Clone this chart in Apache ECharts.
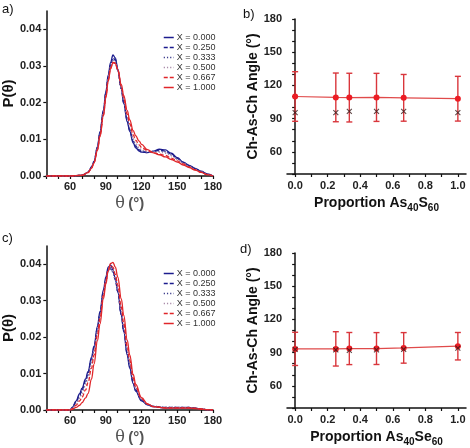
<!DOCTYPE html>
<html>
<head>
<meta charset="utf-8">
<script src="https://cdn.jsdelivr.net/npm/echarts@6/dist/echarts.min.js"></script>
<style>
  html, body { margin: 0; padding: 0; background: #fff; }
  #chart { width: 470px; height: 448px; }
</style>
</head>
<body>
<div id="chart"></div>
<script>
// angle grids (degrees) for the distributions
var thetaA = [40, 60, 70, 75, 78, 80, 83, 85, 88, 90, 92, 94, 96, 98, 100, 103, 105, 108, 110, 113, 115, 118, 120, 125, 130, 135, 140, 145, 150, 155, 160, 165, 170, 175, 180];
var thetaC = [40, 60, 62, 65, 68, 70, 73, 75, 78, 80, 83, 85, 88, 90, 92, 94, 96, 98, 100, 103, 105, 108, 110, 113, 115, 120, 125, 130, 140, 150, 160, 165, 170, 175, 180];

var seriesNames = ['X = 0.000', 'X = 0.250', 'X = 0.333', 'X = 0.500', 'X = 0.667', 'X = 1.000'];

// panel a) P(theta), As-S
var pA0   = [0, 0, 0.0002, 0.001, 0.0025, 0.004, 0.008, 0.012, 0.018, 0.023, 0.0275, 0.031, 0.033, 0.0322, 0.0292, 0.0238, 0.0198, 0.0148, 0.0122, 0.009, 0.0077, 0.0068, 0.0065, 0.0064, 0.0068, 0.0073, 0.0071, 0.0062, 0.005, 0.0038, 0.0029, 0.0021, 0.0013, 0.0006, 0];
var pA250 = [0, 0, 0.0002, 0.001, 0.0024, 0.0039, 0.0078, 0.0117, 0.0176, 0.0226, 0.027, 0.0303, 0.0322, 0.0317, 0.0289, 0.0238, 0.02, 0.0152, 0.0126, 0.0094, 0.0081, 0.0071, 0.0067, 0.0064, 0.0067, 0.007, 0.0068, 0.006, 0.0048, 0.0037, 0.0028, 0.002, 0.0012, 0.0005, 0];
var pA333 = [0, 0, 0.0002, 0.001, 0.0024, 0.0038, 0.0076, 0.0114, 0.0173, 0.0223, 0.0267, 0.03, 0.0317, 0.0314, 0.0288, 0.0239, 0.0203, 0.0156, 0.013, 0.0098, 0.0084, 0.0073, 0.0069, 0.0065, 0.0066, 0.0068, 0.0066, 0.0058, 0.0047, 0.0036, 0.0027, 0.0019, 0.0012, 0.0005, 0];
var pA500 = [0, 0, 0.0002, 0.001, 0.0023, 0.0037, 0.0074, 0.0112, 0.017, 0.022, 0.0264, 0.0297, 0.0313, 0.0311, 0.0288, 0.0241, 0.0207, 0.016, 0.0135, 0.0103, 0.0089, 0.0077, 0.0072, 0.0066, 0.0065, 0.0065, 0.0062, 0.0055, 0.0045, 0.0035, 0.0026, 0.0018, 0.0011, 0.0005, 0];
var pA667 = [0, 0, 0.0002, 0.0009, 0.0022, 0.0036, 0.0072, 0.011, 0.0167, 0.0217, 0.0262, 0.0295, 0.031, 0.0308, 0.0289, 0.0245, 0.0213, 0.0168, 0.0143, 0.0112, 0.0098, 0.0085, 0.0078, 0.0069, 0.0063, 0.006, 0.0056, 0.0049, 0.0041, 0.0033, 0.0025, 0.0017, 0.001, 0.0004, 0];
var pA1   = [0, 0, 0.0002, 0.0009, 0.0021, 0.0035, 0.007, 0.0107, 0.0164, 0.0213, 0.0258, 0.0292, 0.0309, 0.0307, 0.029, 0.025, 0.022, 0.0178, 0.0154, 0.0124, 0.011, 0.0095, 0.0086, 0.0072, 0.0063, 0.0058, 0.0052, 0.0045, 0.0038, 0.003, 0.0023, 0.0016, 0.001, 0.0004, 0];

// panel c) P(theta), As-Se
var pC0   = [0, 0, 0.0008, 0.0025, 0.0045, 0.006, 0.0085, 0.0105, 0.0145, 0.0175, 0.023, 0.027, 0.033, 0.0365, 0.0392, 0.0398, 0.0385, 0.036, 0.0325, 0.026, 0.0215, 0.015, 0.0115, 0.0072, 0.0052, 0.0025, 0.0014, 0.0009, 0.0006, 0.0006, 0.0006, 0.0005, 0.0003, 0.0001, 0];
var pC250 = [0, 0, 0.0007, 0.0022, 0.004, 0.0055, 0.008, 0.01, 0.014, 0.017, 0.0225, 0.0265, 0.0325, 0.036, 0.0385, 0.039, 0.038, 0.0357, 0.0325, 0.0262, 0.0218, 0.0155, 0.012, 0.0076, 0.0055, 0.0027, 0.0015, 0.001, 0.0007, 0.0007, 0.0007, 0.0005, 0.0003, 0.0001, 0];
var pC333 = [0, 0, 0.0006, 0.002, 0.0036, 0.005, 0.0074, 0.0094, 0.0133, 0.0165, 0.022, 0.026, 0.032, 0.0355, 0.038, 0.0386, 0.0378, 0.0356, 0.0326, 0.0265, 0.0222, 0.016, 0.0125, 0.008, 0.0058, 0.0028, 0.0016, 0.001, 0.0007, 0.0007, 0.0007, 0.0005, 0.0003, 0.0001, 0];
var pC500 = [0, 0, 0.0005, 0.0017, 0.0032, 0.0045, 0.0068, 0.0088, 0.0127, 0.016, 0.0215, 0.0256, 0.0318, 0.0355, 0.0382, 0.039, 0.0383, 0.0362, 0.0332, 0.0272, 0.0228, 0.0166, 0.013, 0.0083, 0.006, 0.003, 0.0016, 0.001, 0.0007, 0.0007, 0.0007, 0.0005, 0.0003, 0.0001, 0];
var pC667 = [0, 0, 0.0004, 0.0013, 0.0025, 0.0035, 0.0055, 0.0075, 0.0115, 0.015, 0.0208, 0.025, 0.0315, 0.0355, 0.0386, 0.0397, 0.0392, 0.0372, 0.0342, 0.0282, 0.0238, 0.0174, 0.0137, 0.0088, 0.0064, 0.0031, 0.0016, 0.0009, 0.0006, 0.0006, 0.0006, 0.0005, 0.0003, 0.0001, 0];
var pC1   = [0, 0, 0.0002, 0.0007, 0.0013, 0.002, 0.0033, 0.0045, 0.0085, 0.0125, 0.019, 0.0235, 0.0305, 0.0345, 0.0382, 0.0402, 0.0405, 0.0392, 0.0365, 0.0305, 0.026, 0.0192, 0.0152, 0.0098, 0.0071, 0.0034, 0.0017, 0.0009, 0.0005, 0.0005, 0.0005, 0.0004, 0.0002, 0.0001, 0];

// panels b) and d): mean angle, std dev, peak position vs proportion
var propX = [0, 0.25, 0.333, 0.5, 0.667, 1.0];
var meanS = [110, 109.2, 109, 109.2, 108.8, 108];
var errS  = [22.4, 22, 22, 21.7, 21.1, 20.2];
var peakS = [95.5, 95.5, 96.5, 96.5, 96.5, 95.5];
var meanSe = [93.4, 93.4, 93.7, 93.7, 94.3, 95.8];
var errSe  = [15, 15.5, 14.5, 14.4, 13.8, 12.4];
var peakSe = [93, 92.5, 92, 92.5, 93, 94];

// tick labels
var pTicks = [0, 0.01, 0.02, 0.03, 0.04];
var angTicks = [60, 90, 120, 150, 180];
var angMinor = [40, 50, 60, 70, 80, 90, 100, 110, 120, 130, 140, 150, 160, 170, 180];
var propTicks = [0, 0.1, 0.2, 0.3, 0.4, 0.5, 0.6, 0.7, 0.8, 0.9, 1.0];
var propLabels = [0, 0.2, 0.4, 0.6, 0.8, 1.0];

var FONT = 'Arial, "Liberation Sans", sans-serif';
var lineStyles = [
  {color: '#1c1c8e', type: 'solid'},
  {color: '#1c1c8e', type: [4, 2]},
  {color: '#3a3a8a', type: [1.2, 2]},
  {color: '#a88aa8', type: [1.2, 2]},
  {color: '#e0262a', type: [4, 2]},
  {color: '#e0262a', type: 'solid'}
];

var echarts = window.echarts;
var myChart = echarts.init(document.getElementById('chart'), null, {renderer: 'canvas'});

function zip(xs, ys) {
  var out = [];
  for (var i = 0; i < xs.length; i++) out.push([xs[i], ys[i]]);
  return out;
}

var axisLine = {show: true, lineStyle: {color: '#111', width: 1.5}};
var axisTick = {show: true, inside: false, length: 3, lineStyle: {color: '#111', width: 1.2}};
var tickFont = {color: '#222', fontWeight: 'bold', fontSize: 11, fontFamily: FONT};

function thetaX(gridIndex) {
  return {
    type: 'value', gridIndex: gridIndex, min: 40, max: 180, interval: 10,
    axisLine: axisLine, splitLine: {show: false},
    axisTick: axisTick,
    axisLabel: Object.assign({margin: 5, fontSize: 10.5, formatter: function (v) {
      return (v >= 60 && v % 30 === 0) ? String(v) : '';
    }}, tickFont),
    name: '{t|θ} {d|(°)}', nameLocation: 'middle', nameGap: 20,
    nameTextStyle: {rich: {
      t: {fontSize: 16, color: '#555', fontFamily: '"DejaVu Serif", serif'},
      d: {fontSize: 15, color: '#555', fontWeight: 'bold', fontFamily: FONT}
    }}
  };
}
function probY(gridIndex) {
  return {
    type: 'value', gridIndex: gridIndex, min: 0, max: 0.045,
    axisLine: axisLine, splitLine: {show: false},
    axisTick: Object.assign({customValues: pTicks}, axisTick),
    axisLabel: Object.assign({customValues: pTicks, margin: 5, formatter: function (v) { return v.toFixed(2); }}, tickFont),
    name: 'P(θ)', nameLocation: 'middle', nameGap: 30,
    nameTextStyle: {fontSize: 15, fontWeight: 'bold', color: '#111', fontFamily: FONT}
  };
}
function propXAxis(gridIndex, sub2) {
  return {
    type: 'value', gridIndex: gridIndex, min: -0.05, max: 1.05,
    axisLine: axisLine, splitLine: {show: false},
    axisTick: Object.assign({customValues: propTicks}, axisTick),
    axisLabel: Object.assign({customValues: propLabels, margin: 6, fontSize: 10.5, formatter: function (v) { return v.toFixed(1); }}, tickFont),
    name: '{m|Proportion As}{s|40}{m|' + sub2 + '}{s|60}', nameLocation: 'middle', nameGap: 20,
    nameTextStyle: {rich: {
      m: {fontSize: 14, fontWeight: 'bold', color: '#111', fontFamily: FONT},
      s: {fontSize: 10, fontWeight: 'bold', color: '#111', fontFamily: FONT, verticalAlign: 'bottom', padding: [9, 0, 0, 0]}
    }}
  };
}
function angY(gridIndex) {
  return {
    type: 'value', gridIndex: gridIndex, min: 40, max: 180,
    axisLine: axisLine, splitLine: {show: false},
    axisTick: Object.assign({customValues: angMinor}, axisTick),
    axisLabel: Object.assign({customValues: angTicks, margin: 5}, tickFont),
    name: 'Ch-As-Ch Angle (°)', nameLocation: 'middle', nameGap: 27,
    nameTextStyle: {fontSize: 14, fontWeight: 'bold', color: '#111', fontFamily: FONT}
  };
}

function distSeries(axisIdx, xs, arrays) {
  return arrays.map(function (ys, i) {
    return {
      type: 'line', name: seriesNames[i], xAxisIndex: axisIdx, yAxisIndex: axisIdx,
      data: zip(xs, ys), smooth: 0.4, smoothMonotone: 'x', symbol: 'none',
      lineStyle: {color: lineStyles[i].color, type: lineStyles[i].type, width: 1.3},
      itemStyle: {color: lineStyles[i].color}, silent: true, z: 2 + i
    };
  });
}

function errRender(params, api) {
  var x = api.value(0);
  var lo = api.coord([x, api.value(1)]);
  var hi = api.coord([x, api.value(2)]);
  var w = 3;
  var st = {stroke: '#d9363c', lineWidth: 1.4};
  return {type: 'group', children: [
    {type: 'line', shape: {x1: lo[0], y1: lo[1], x2: hi[0], y2: hi[1]}, style: st},
    {type: 'line', shape: {x1: lo[0] - w, y1: lo[1], x2: lo[0] + w, y2: lo[1]}, style: st},
    {type: 'line', shape: {x1: hi[0] - w, y1: hi[1], x2: hi[0] + w, y2: hi[1]}, style: st}
  ]};
}

function angleSeries(axisIdx, means, errs, peaks) {
  var bars = propX.map(function (x, i) { return [x, means[i] - errs[i], means[i] + errs[i]]; });
  return [
    {type: 'custom', xAxisIndex: axisIdx, yAxisIndex: axisIdx, renderItem: errRender,
      data: bars, encode: {x: 0, y: [1, 2]}, silent: true, z: 2},
    {type: 'line', xAxisIndex: axisIdx, yAxisIndex: axisIdx, data: zip(propX, means),
      symbol: 'circle', symbolSize: 6, showSymbol: true,
      lineStyle: {color: '#e04a4a', width: 1.2}, itemStyle: {color: '#ec1c24'}, silent: true, z: 3},
    {type: 'scatter', xAxisIndex: axisIdx, yAxisIndex: axisIdx, data: zip(propX, peaks),
      symbol: 'path://M0,0L10,10M10,0L0,10', symbolSize: 5,
      itemStyle: {color: 'none', borderColor: '#3a1a1a', borderWidth: 1.1}, silent: true, z: 4}
  ];
}

function legendAt(top) {
  return {
    data: seriesNames, orient: 'vertical', left: 163, top: top,
    itemWidth: 10, itemHeight: 8, itemGap: 1, padding: 0, selectedMode: false,
    itemStyle: {opacity: 0},
    lineStyle: {width: 1.5},
    textStyle: {fontSize: 9, color: '#333', fontFamily: FONT, padding: [0, 0, 0, -2]}
  };
}

function panelLabel(txt, x, y) {
  return {type: 'text', left: x, top: y, style: {text: txt, fontSize: 13, fill: '#111', font: '13px ' + FONT}};
}

var option = {
  animation: false,
  backgroundColor: '#fff',
  grid: [
    {left: 41, top: 11, width: 172, height: 165},
    {left: 287, top: 19, width: 179, height: 155},
    {left: 41, top: 246, width: 172, height: 164},
    {left: 287, top: 253, width: 179, height: 156}
  ],
  xAxis: [thetaX(0), propXAxis(1, 'S'), thetaX(2), propXAxis(3, 'Se')],
  yAxis: [probY(0), angY(1), probY(2), angY(3)],
  legend: [legendAt(33), legendAt(269)],
  graphic: [
    panelLabel('a)', 2, 3),
    panelLabel('b)', 243, 8),
    panelLabel('c)', 2, 232),
    panelLabel('d)', 240, 243)
  ],
  series: [].concat(
    distSeries(0, thetaA, [pA0, pA250, pA333, pA500, pA667, pA1]),
    angleSeries(1, meanS, errS, peakS),
    distSeries(2, thetaC, [pC0, pC250, pC333, pC500, pC667, pC1]),
    angleSeries(3, meanSe, errSe, peakSe)
  )
};

myChart.setOption(option);
</script>
</body>
</html>
